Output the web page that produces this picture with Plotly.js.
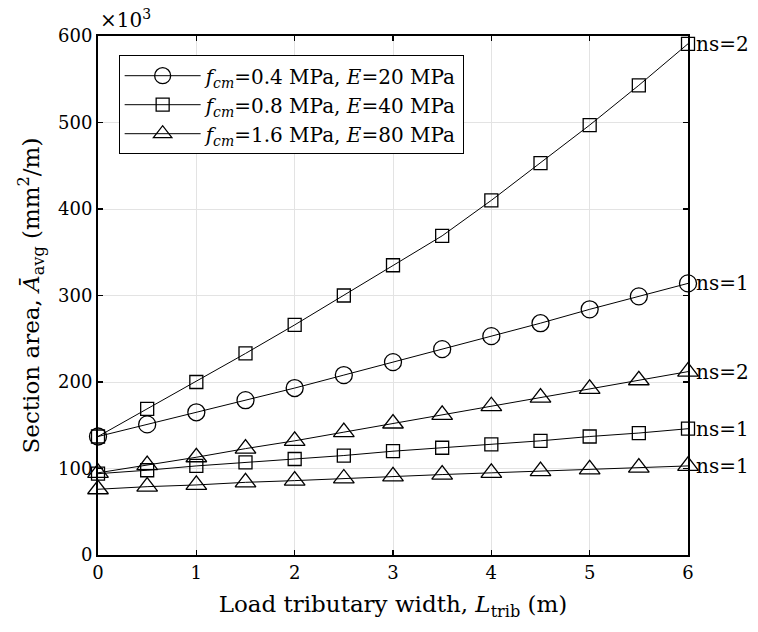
<!DOCTYPE html>
<html>
<head>
<meta charset="utf-8">
<script src="https://cdn.plot.ly/plotly-3.0.1.min.js"></script>
<style>
  html, body { margin: 0; padding: 0; background: #fff; }
  #chart { width: 758px; height: 632px; }
</style>
</head>
<body>
<div id="chart"></div>
<script>
// Load tributary width (m)
const tributaryWidth = [0, 0.5, 1, 1.5, 2, 2.5, 3, 3.5, 4, 4.5, 5, 5.5, 6];

// Average section area, in thousands of mm^2/m
const areaFcm04Ns1 = [137, 151, 165, 179, 193, 208, 223, 238, 253, 268, 284, 299, 314];
const areaFcm08Ns2 = [137, 169, 200, 233, 266, 300, 335, 369, 410, 453, 497, 543, 591];
const areaFcm08Ns1 = [94, 98, 103, 107, 111, 115, 120, 124, 128, 132, 137, 141, 146];
const areaFcm16Ns2 = [95, 104, 113, 123, 132, 142, 152, 162, 172, 182, 192, 202, 212];
const areaFcm16Ns1 = [76, 79, 81, 84, 86, 88.5, 91, 93, 95, 97, 99, 101, 103];

// Legend names and end-of-curve labels
const seriesNames = [
  "<i>f</i><sub><i>cm</i></sub>=0.4 MPa, <i>E</i>=20 MPa",
  "<i>f</i><sub><i>cm</i></sub>=0.8 MPa, <i>E</i>=40 MPa",
  "<i>f</i><sub><i>cm</i></sub>=1.6 MPa, <i>E</i>=80 MPa"
];
const nsLabels = ["ns=1", "ns=2", "ns=1", "ns=2", "ns=1"];

const FONT = "DejaVu Serif, Liberation Serif, serif";

const series = [
  { y: areaFcm04Ns1, symbol: "circle-open",      size: 17, name: seriesNames[0], legend: true,  label: nsLabels[0] },
  { y: areaFcm08Ns2, symbol: "square-open",      size: 13, name: seriesNames[1], legend: true,  label: nsLabels[1] },
  { y: areaFcm08Ns1, symbol: "square-open",      size: 13, name: seriesNames[1], legend: false, label: nsLabels[2] },
  { y: areaFcm16Ns2, symbol: "triangle-up-open", size: 18, name: seriesNames[2], legend: true,  label: nsLabels[3] },
  { y: areaFcm16Ns1, symbol: "triangle-up-open", size: 18, name: seriesNames[2], legend: false, label: nsLabels[4] }
];

const traces = series.map(s => ({
  x: tributaryWidth,
  y: s.y,
  type: "scatter",
  mode: "lines+markers",
  name: s.name,
  showlegend: s.legend,
  line: { color: "#000", width: 1 },
  marker: { symbol: s.symbol, size: s.size, color: "#000", line: { color: "#000", width: 1.3 } },
  cliponaxis: false
}));

// "ns=" labels next to the last point of each curve
const lastIdx = tributaryWidth.length - 1;
const nsAnnotations = series.map(s => ({
  x: tributaryWidth[lastIdx],
  y: s.y[lastIdx],
  xref: "x", yref: "y",
  text: s.label,
  showarrow: false,
  xanchor: "left",
  yanchor: "middle",
  xshift: 6,
  font: { family: FONT, size: 20, color: "#000" }
}));

const layout = {
  width: 758,
  height: 632,
  margin: { l: 98, r: 70, t: 36, b: 77 },
  paper_bgcolor: "#fff",
  plot_bgcolor: "#fff",
  font: { family: FONT, size: 18, color: "#000" },
  xaxis: {
    range: [0, 6],
    tickmode: "linear", tick0: 0, dtick: 1,
    ticks: "inside", ticklen: 5, tickwidth: 1.5, tickcolor: "#000",
    showline: true, linecolor: "#000", linewidth: 2, mirror: "ticks",
    showgrid: true, gridcolor: "#e3e3e3", gridwidth: 1,
    zeroline: false,
    tickfont: { family: FONT, size: 18 },
    title: { text: "Load tributary width, <i>L</i><sub>trib</sub> (m)", font: { family: FONT, size: 23 }, standoff: 14 }
  },
  yaxis: {
    range: [0, 600],
    tickmode: "linear", tick0: 0, dtick: 100,
    ticks: "inside", ticklen: 5, tickwidth: 1.5, tickcolor: "#000",
    showline: true, linecolor: "#000", linewidth: 2, mirror: "ticks",
    showgrid: true, gridcolor: "#e3e3e3", gridwidth: 1,
    zeroline: false,
    tickfont: { family: FONT, size: 18 },
    title: { text: "Section area, <i>Ā</i><sub>avg</sub> (mm<sup>2</sup>/m)", font: { family: FONT, size: 23 }, standoff: 12 }
  },
  legend: {
    x: 0.035, y: 0.963, xanchor: "left", yanchor: "top",
    bgcolor: "#fff", bordercolor: "#000", borderwidth: 1,
    font: { family: FONT, size: 20 },
    itemwidth: 76,
    tracegroupgap: 0
  },
  annotations: nsAnnotations.concat([{
    x: 0, y: 1, xref: "paper", yref: "paper",
    text: "×10<sup>3</sup>",
    showarrow: false, xanchor: "left", yanchor: "bottom", yshift: 2,
    font: { family: FONT, size: 20 }
  }]),
  showlegend: true
};

Plotly.newPlot("chart", traces, layout, { staticPlot: true, displayModeBar: false });
</script>
</body>
</html>
